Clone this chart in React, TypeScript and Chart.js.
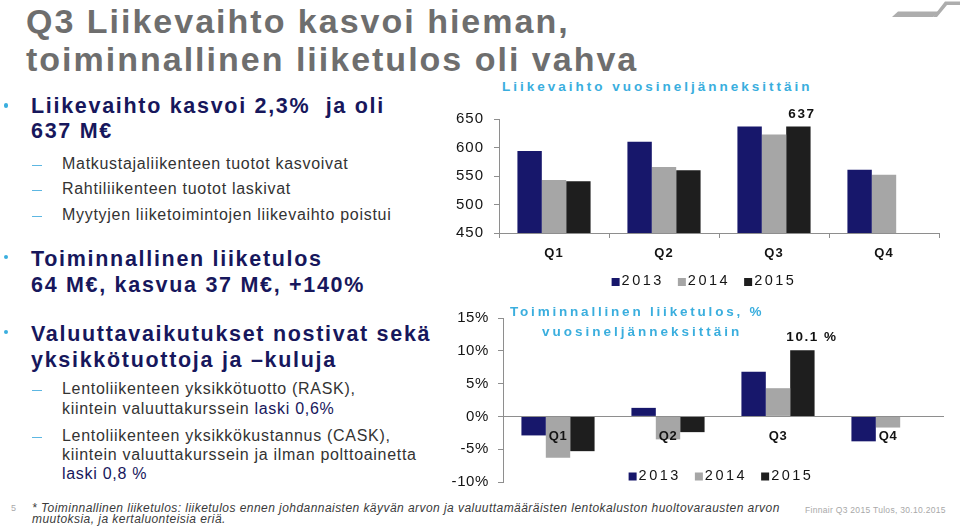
import React, { useEffect, useRef } from "react";
import { Chart, registerables } from "chart.js";

Chart.register(...registerables);

// ---------- data ----------
const quarters = ["Q1", "Q2", "Q3", "Q4"];
const years = ["2013", "2014", "2015"];

const revenue2013 = [594, 610, 637, 561];
const revenue2014 = [543, 566, 623, 552];
const revenue2015 = [541, 560, 637, null];
const revenueTicks = [450, 500, 550, 600, 650];

const margin2013 = [-2.9, 1.3, 6.8, -3.8];
const margin2014 = [-6.3, -3.5, 4.3, -1.7];
const margin2015 = [-5.3, -2.4, 10.1, null];
const marginTicks = [-10, -5, 0, 5, 10, 15];

// ---------- styles ----------
const FONT = "'Liberation Sans', Arial, sans-serif";
const yearColors = ["#17176B", "#A6A6A6", "#1E1E1E"];
const axisColor = "#8E8E8E";
const tickColor = "#141414";
const titleBlue = "#3AAEDE";
const navy = "#17175C";
const bodyGrey = "#333333";

const spacingPlugin = {
  id: "spacing",
  beforeUpdate(chart: any, _a: any, opts: any) {
    chart.ctx.letterSpacing = opts.value || "0px";
  },
  beforeDraw(chart: any, _a: any, opts: any) {
    chart.ctx.letterSpacing = opts.value || "0px";
  },
};

const annotatePlugin = {
  id: "annotate",
  afterDraw(chart: any, _a: any, opts: any) {
    const ctx = chart.ctx;
    const area = chart.chartArea;
    ctx.save();
    if (opts.label) {
      const { datasetIndex, index, format, dx, dy } = opts.label;
      const el = chart.getDatasetMeta(datasetIndex).data[index];
      const v = chart.data.datasets[datasetIndex].data[index];
      ctx.letterSpacing = "1.5px";
      ctx.font = `bold 13.5px ${FONT}`;
      ctx.fillStyle = "#111";
      ctx.textAlign = "center";
      ctx.textBaseline = "middle";
      ctx.fillText(format(v), el.x + dx, el.y + dy);
    }
    if (opts.legend) {
      const { dx, dy } = opts.legend;
      const ds = chart.data.datasets;
      ctx.font = `14.5px ${FONT}`;
      ctx.letterSpacing = "2.5px";
      const widths = ds.map((d: any) => ctx.measureText(d.label).width);
      const box = 8, gapIn = 2, gapOut = 14;
      let total = 0;
      widths.forEach((w: number, i: number) => {
        total += box + gapIn + w + (i < widths.length - 1 ? gapOut : 0);
      });
      let x = (area.left + area.right) / 2 + dx - total / 2;
      const y = area.bottom + dy;
      ctx.textAlign = "left";
      ctx.textBaseline = "middle";
      ds.forEach((d: any, i: number) => {
        ctx.fillStyle = d.backgroundColor;
        ctx.fillRect(x, y - 3, box, box);
        ctx.fillStyle = "#151515";
        ctx.fillText(d.label, x + box + gapIn, y);
        x += box + gapIn + widths[i] + gapOut;
      });
    }
    ctx.restore();
  },
};

function makeRevenueConfig(): any {
  return {
    type: "bar",
    data: {
      labels: quarters,
      datasets: [
        { label: years[0], data: revenue2013, backgroundColor: yearColors[0] },
        { label: years[1], data: revenue2014, backgroundColor: yearColors[1] },
        { label: years[2], data: revenue2015, backgroundColor: yearColors[2] },
      ],
    },
    plugins: [spacingPlugin, annotatePlugin],
    options: {
      responsive: false,
      animation: false,
      events: [],
      layout: { padding: { top: 12, right: 11, bottom: 37, left: 0 } },
      datasets: { bar: { categoryPercentage: 0.665, barPercentage: 1 } },
      plugins: {
        legend: { display: false },
        tooltip: { enabled: false },
        title: { display: false },
        spacing: { value: "1px" },
        annotate: {
          label: { datasetIndex: 2, index: 2, format: (v: number) => `${v}`, dx: 3.5, dy: -12 },
          legend: { dx: -15, dy: 48 },
        },
      },
      scales: {
        x: {
          grid: { display: true, drawOnChartArea: false, tickLength: 5, color: axisColor, offset: true },
          border: { color: axisColor },
          ticks: { color: tickColor, font: { family: FONT, size: 13, weight: "bold" }, padding: 8 },
          afterFit: (s: any) => { s.height = 30; },
        },
        y: {
          min: revenueTicks[0],
          max: revenueTicks[revenueTicks.length - 1],
          afterBuildTicks: (s: any) => { s.ticks = revenueTicks.map((v) => ({ value: v })); },
          ticks: { color: tickColor, font: { family: FONT, size: 15 }, padding: 10 },
          grid: { drawOnChartArea: false, tickLength: 5, color: axisColor },
          border: { color: axisColor },
          afterFit: (s: any) => { s.width = 59; },
        },
      },
    },
  };
}

function makeMarginConfig(): any {
  return {
    type: "bar",
    data: {
      labels: quarters,
      datasets: [
        { label: years[0], data: margin2013, backgroundColor: yearColors[0] },
        { label: years[1], data: margin2014, backgroundColor: yearColors[1] },
        { label: years[2], data: margin2015, backgroundColor: yearColors[2] },
      ],
    },
    plugins: [spacingPlugin, annotatePlugin],
    options: {
      responsive: false,
      animation: false,
      events: [],
      layout: { padding: { top: 12, right: 7, bottom: 16, left: 0 } },
      datasets: { bar: { categoryPercentage: 0.665, barPercentage: 1 } },
      plugins: {
        legend: { display: false },
        tooltip: { enabled: false },
        title: { display: false },
        spacing: { value: "0.6px" },
        annotate: {
          label: { datasetIndex: 2, index: 2, format: (v: number) => `${v.toFixed(1)} %`, dx: 9.5, dy: -12.5 },
          legend: { dx: -2, dy: -6.5 },
        },
      },
      scales: {
        x: {
          position: { y: 0 },
          grid: { display: false, drawTicks: false },
          border: { display: true, color: axisColor, z: 1 },
          ticks: { z: 2, color: tickColor, font: { family: FONT, size: 13, weight: "bold" }, padding: 12 },
        },
        y: {
          min: marginTicks[0],
          max: marginTicks[marginTicks.length - 1],
          afterBuildTicks: (s: any) => { s.ticks = marginTicks.map((v) => ({ value: v })); },
          ticks: { color: tickColor, font: { family: FONT, size: 15 }, padding: 9, callback: (v: any) => `${v}%` },
          grid: { drawOnChartArea: false, tickLength: 5, color: axisColor },
          border: { color: axisColor },
          afterFit: (s: any) => { s.width = 63; },
        },
      },
    },
  };
}

function BarChart({ make, left, top, width, height }: any) {
  const ref = useRef<HTMLCanvasElement | null>(null);
  useEffect(() => {
    if (!ref.current) return;
    const chart = new Chart(ref.current, make());
    return () => chart.destroy();
  }, [make]);
  return (
    <canvas
      ref={ref}
      width={width}
      height={height}
      style={{ position: "absolute", left, top, width, height, display: "block" }}
    />
  );
}

function T({ x, b, size, weight = "normal", color, ls = 0, italic = false, children }: any) {
  return (
    <div
      style={{
        position: "absolute",
        left: x,
        top: b - 0.8465 * size,
        fontSize: size,
        lineHeight: `${size}px`,
        fontWeight: weight,
        fontStyle: italic ? "italic" : "normal",
        color,
        letterSpacing: ls,
        whiteSpace: "pre",
        fontFamily: FONT,
      }}
    >
      {children}
    </div>
  );
}

function Dot({ y }: any) {
  return (
    <div style={{ position: "absolute", left: 3.5, top: y - 2.2, width: 4.5, height: 4.5, borderRadius: "50%", background: titleBlue }} />
  );
}

function Dash({ b }: any) {
  return <div style={{ position: "absolute", left: 32, top: b - 5, width: 10, height: 1.4, background: "#5DB7E2" }} />;
}

const B = { size: 21.5, weight: "bold", color: navy, ls: 1.7, x: 31 };
const S = { size: 16, color: bodyGrey, ls: 0.7, x: 62 };

export default function App() {
  return (
    <div
      style={{
        position: "absolute",
        left: 0,
        top: 0,
        width: 960,
        height: 527,
        background: "#ffffff",
        overflow: "hidden",
        fontFamily: FONT,
      }}
    >
      {/* logo */}
      <svg style={{ position: "absolute", left: 0, top: 0 }} width={960} height={30}>
        <polygon points="892,17 898,11.5 939,11.5 933,17" fill="#ADADAD" />
        <polygon points="933,17 945,1.5 960,1.5 960,5 947,5 937,17" fill="#ADADAD" />
      </svg>

      {/* title */}
      <T x={26} b={33} size={34} weight="bold" color="#6E6E6E" ls={2}>Q3 Liikevaihto kasvoi hieman,</T>
      <T x={26} b={71} size={34} weight="bold" color="#6E6E6E" ls={2}>toiminnallinen liiketulos oli vahva</T>

      {/* bullet 1 */}
      <Dot y={105.5} />
      <T {...B} b={114.3}>Liikevaihto kasvoi 2,3%  ja oli</T>
      <T {...B} b={139}>637 M€</T>
      <Dash b={170} />
      <T {...S} b={170}>Matkustajaliikenteen tuotot kasvoivat</T>
      <Dash b={195} />
      <T {...S} b={195}>Rahtiliikenteen tuotot laskivat</T>
      <Dash b={220.5} />
      <T {...S} b={220.5}>Myytyjen liiketoimintojen liikevaihto poistui</T>

      {/* bullet 2 */}
      <Dot y={257} />
      <T {...B} b={266.7}>Toiminnallinen liiketulos</T>
      <T {...B} b={293.3}>64 M€, kasvua 37 M€, +140%</T>

      {/* bullet 3 */}
      <Dot y={332} />
      <T {...B} b={341.7}>Valuuttavaikutukset nostivat sekä</T>
      <T {...B} b={368.3}>yksikkötuottoja ja –kuluja</T>
      <Dash b={395} />
      <T {...S} b={395}>Lentoliikenteen yksikkötuotto (RASK),</T>
      <T {...S} b={414.3}>kiintein valuuttakurssein <span style={{ color: navy }}>laski 0,6%</span></T>
      <Dash b={441.7} />
      <T {...S} b={441.7}>Lentoliikenteen yksikkökustannus (CASK),</T>
      <T {...S} b={460.7}>kiintein valuuttakurssein ja ilman polttoainetta</T>
      <T {...S} b={480} color={navy}>laski 0,8 %</T>

      {/* footer */}
      <T x={11} b={512} size={9} color="#AAAAAA">5</T>
      <T x={32} b={511.7} size={12} italic color="#3A3A3A" ls={0.45}>* Toiminnallinen liiketulos: liiketulos ennen johdannaisten käyvän arvon ja valuuttamääräisten lentokaluston huoltovarausten arvon</T>
      <T x={32} b={523.3} size={12} italic color="#3A3A3A" ls={0.45}>muutoksia, ja kertaluonteisia eriä.</T>
      <T x={805} b={512.7} size={8.5} color="#A8A8A8" ls={0.3}>Finnair Q3 2015 Tulos, 30.10.2015</T>

      {/* charts */}
      <BarChart make={makeRevenueConfig} left={440} top={100} width={510} height={200} />
      <BarChart make={makeMarginConfig} left={440} top={300} width={510} height={200} />

      {/* chart titles */}
      <T x={502} b={91.7} size={13.5} weight="bold" color={titleBlue} ls={3}>Liikevaihto vuosineljänneksittäin</T>
      <T x={510} b={316.7} size={13.5} weight="bold" color={titleBlue} ls={2.8}>Toiminnallinen liiketulos, %</T>
      <T x={542} b={336.7} size={13.5} weight="bold" color={titleBlue} ls={3}>vuosineljänneksittäin</T>
    </div>
  );
}
